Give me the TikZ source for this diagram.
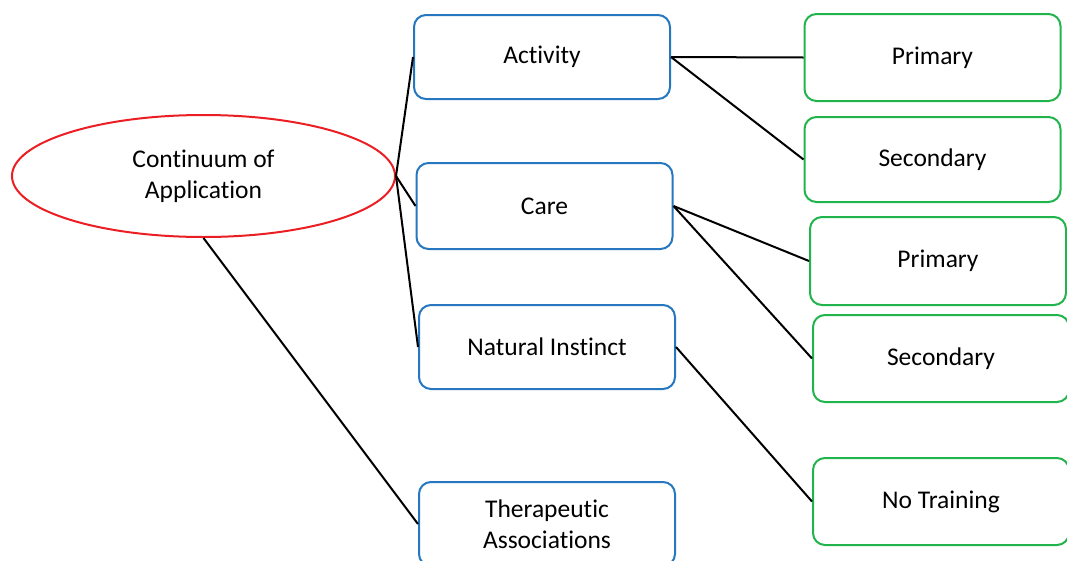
\documentclass[tikz,border=0pt]{standalone}
\usepackage{fontspec}
\setmainfont[Ligatures=NoCommon]{Carlito}
\usetikzlibrary{shapes.geometric}
\definecolor{boxblue}{RGB}{38,118,192}
\definecolor{boxgreen}{RGB}{34,180,76}
\definecolor{ellred}{RGB}{235,30,35}
\begin{document}
\begin{tikzpicture}[x=1pt,y=-1pt,
  every node/.style={font=\fontsize{25.5}{31}\selectfont, align=center, inner sep=0pt},
  bluebox/.style={draw=boxblue, line width=2pt, rounded corners=12pt, minimum width=256pt, minimum height=84pt},
  greenbox/.style={draw=boxgreen, line width=2pt, rounded corners=12pt, minimum width=256pt, minimum height=86pt},
  link/.style={draw=black, line width=2pt}]
\useasboundingbox (0,0) rectangle (1067,560);
\node[ellipse, draw=ellred, line width=2pt, minimum width=383pt, minimum height=122pt] (root) at (203.5,176) {Continuum of\\Application};
\node[bluebox] (act) at (542,57) {Activity};
\node[bluebox, minimum height=86pt] (care) at (544.5,206) {Care};
\node[bluebox] (nat) at (547,347) {Natural Instinct};
\node[bluebox] (ther) at (547,524) {Therapeutic\\Associations};
\node[greenbox, minimum height=87pt] (p1) at (932.5,57.5) {Primary};
\node[greenbox, minimum height=85pt] (s1) at (932.5,159.5) {Secondary};
\node[greenbox, minimum height=88pt] (p2) at (938,261) {Primary};
\node[greenbox, minimum height=87pt] (s2) at (941,358.5) {Secondary};
\node[greenbox, minimum height=87pt] (nt) at (941,501.5) {No Training};
\draw[link] (root.east) -- (act.west);
\draw[link] (root.east) -- (care.west);
\draw[link] (root.east) -- (nat.west);
\draw[link] (root.south) -- (ther.west);
\draw[link] (act.east) -- (p1.west);
\draw[link] (act.east) -- (s1.west);
\draw[link] (care.east) -- (p2.west);
\draw[link] (care.east) -- (s2.west);
\draw[link] (nat.east) -- (nt.west);
\end{tikzpicture}
\end{document}
